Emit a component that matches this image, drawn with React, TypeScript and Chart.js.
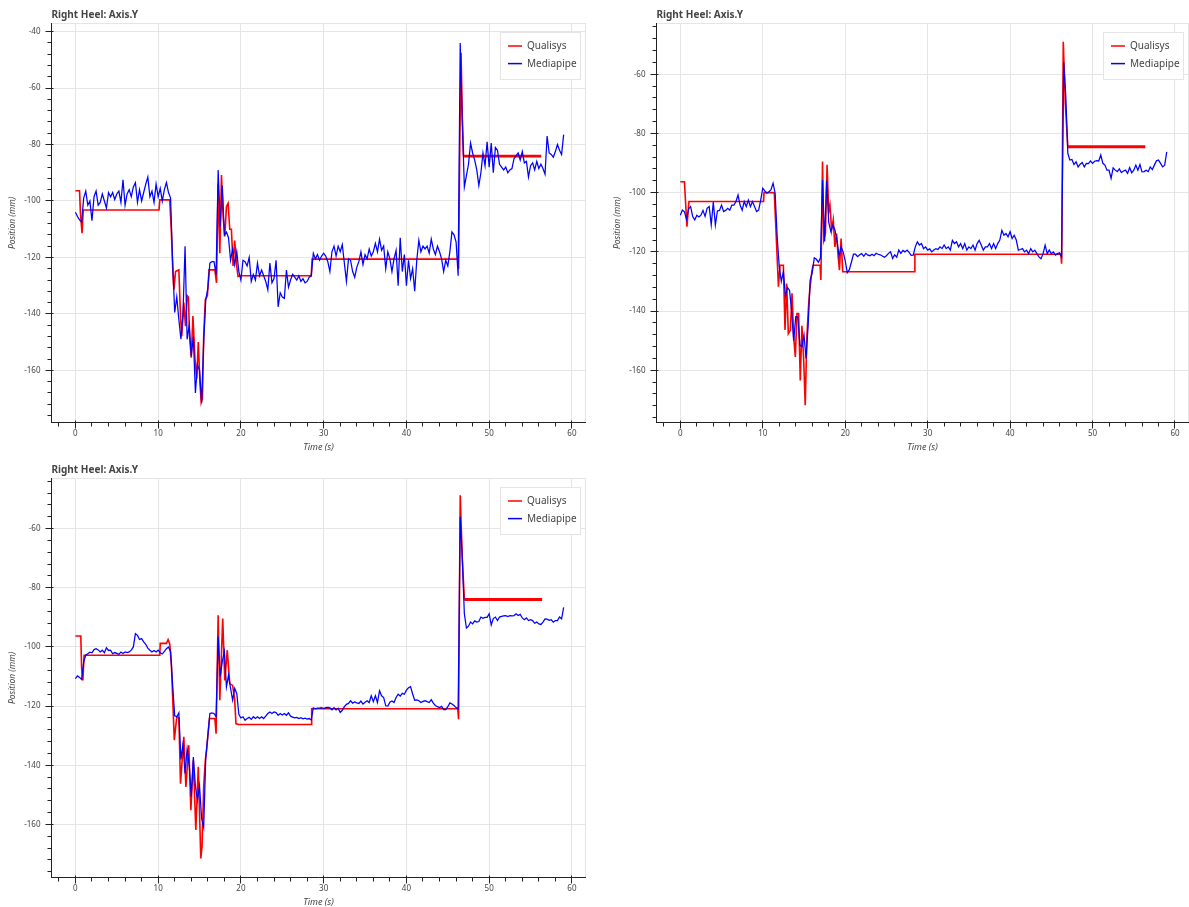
import React, { useEffect, useRef } from "react";
import { Chart, registerables } from "chart.js";

Chart.register(...registerables);
Chart.defaults.font.family = "'Noto Sans', 'DejaVu Sans', sans-serif";

// ---- Labels -------------------------------------------------------------
const TITLE = "Right Heel: Axis.Y";
const X_LABEL = "Time (s)";
const Y_LABEL = "Position (mm)";
const SERIES_NAMES = ["Qualisys", "Mediapipe"];

const TIME_TICKS = [0, 10, 20, 30, 40, 50, 60];
const POS_TICKS_WIDE = [-160, -140, -120, -100, -80, -60, -40];
const POS_TICKS = [-160, -140, -120, -100, -80, -60];

// Mediapipe samples are plotted every 0.25 s starting at t = 0.
const MEDIAPIPE_STEP = 0.25;

// ---- Panel 1 ------------------------------------------------------------
const qualisysTime1 = [
  0, 0.5, 0.6, 0.8, 0.95, 10.1, 10.2, 11.4, 11.6, 11.8,
  11.9, 12.1, 12.5, 12.7, 12.85, 13.1, 13.3, 13.5, 13.65, 13.8,
  14.0, 14.2, 14.45, 14.65, 14.85, 15.05, 15.2, 15.35, 15.5, 15.7,
  15.95, 16.15, 16.85, 17.05, 17.25, 17.45, 17.65, 17.85, 18.05, 18.25,
  18.45, 18.65, 18.85, 19.05, 19.25, 19.45, 19.65, 19.85, 28.5, 28.6,
  46.2, 46.3, 46.45, 46.6, 46.75, 46.9, 56.3,
];
const qualisysPos1 = [
  -96.4, -96.4, -104, -111.4, -103.2, -103.2, -99.6, -99.6, -111.4, -126.7,
  -131.4, -125, -124.4, -140.8, -147.9, -136, -144.4, -133.5, -134, -148,
  -155.5, -140.8, -156, -163, -150, -164.4, -171.4, -170, -148, -135,
  -133.5, -124.4, -124.4, -129, -93.8, -118.5, -90.8, -105.5, -112.6, -102,
  -100.8, -110, -110, -123, -114, -122, -126.7, -126.5, -126.5, -120.6,
  -120.6, -124, -80, -47.5, -70, -84.1, -84.1,
];
const mediapipePos1 = [
  -104, -105.5, -106.7, -107.5, -99, -96.5, -101.5, -100, -107, -98.5,
  -96.5, -101.5, -100.5, -97.5, -100, -102.5, -97, -98.5, -97, -99.5,
  -97.5, -96.5, -100.5, -92.5, -101.5, -97.5, -96, -98.5, -95, -93.5,
  -100.5, -96, -100, -97, -94, -91.5, -98.5, -96.5, -100.5, -94,
  -98.5, -95.5, -100, -96, -93.5, -97, -99, -122, -139.5, -134,
  -142, -149, -140, -116, -149, -144, -155, -148, -168, -158,
  -160, -171.5, -150, -135, -131, -122, -121.5, -121.5, -126, -89,
  -109, -94.5, -112, -111, -113, -121, -117, -122.5, -118, -125,
  -128, -121, -121.5, -123, -120, -128.5, -126, -128, -122, -126.5,
  -124.5, -126.5, -128.5, -131.5, -122, -129, -127.5, -121, -137.5, -132.5,
  -134, -134.5, -124.5, -130.5, -128, -126, -127, -128, -126.5, -128.5,
  -127.5, -129, -128.5, -127, -126.5, -118.5, -120.5, -119, -121, -119.5,
  -118.5, -119.5, -121.5, -125, -118, -116, -119.5, -116, -118, -115.5,
  -122, -128.5, -120.5, -121, -125, -127, -123.5, -121.5, -118, -122.5,
  -119, -120.5, -117, -119.5, -118, -115, -118, -113.5, -117.5, -116,
  -124, -118, -120.5, -125, -120.5, -117.5, -130, -113, -125, -119,
  -130, -121, -127.5, -124, -132, -121, -114, -118, -116, -117,
  -116, -118.5, -113.5, -117, -119, -116, -118, -120.5, -125, -121,
  -123, -118, -111, -112, -114.5, -126.5, -44, -72, -95, -91,
  -87, -79.5, -83, -85.5, -89, -94.5, -90, -83, -87.5, -79,
  -88, -79.5, -90, -81, -82, -87, -88, -89, -88, -90,
  -89, -88.5, -85, -84, -83, -85.5, -82.5, -86.5, -86, -91.5,
  -87.5, -86.5, -89, -86, -88.5, -87, -88.5, -90.5, -77, -83,
  -83.5, -84.5, -82.5, -80, -82, -83.5, -76.5,
];

// ---- Panel 2 ------------------------------------------------------------
const qualisysTime2 = [
  0, 0.5, 0.8, 1.05, 10.1, 10.15, 11.3, 11.4, 11.6, 11.9,
  12.1, 12.5, 12.7, 12.9, 13.1, 13.35, 13.55, 13.75, 13.95, 14.15,
  14.35, 14.55, 14.75, 14.95, 15.15, 15.35, 15.55, 15.7, 15.95, 16.1,
  16.95, 17.05, 17.25, 17.4, 17.6, 17.8, 18.0, 18.15, 18.35, 18.55,
  18.75, 18.95, 19.15, 19.3, 19.5, 19.7, 28.4, 28.45, 46.15, 46.25,
  46.45, 46.7, 47.0, 56.4,
];
const qualisysPos2 = [
  -96.3, -96.3, -111.5, -103, -103, -100, -100, -100.2, -112.6, -131.8,
  -124.5, -124.5, -146.4, -130.7, -147.6, -146.4, -134, -148.7, -155.5, -140.8,
  -140.8, -163.4, -145, -155.5, -171.8, -148.7, -138.5, -132.9, -126.7, -124.5,
  -124.5, -129.5, -89.5, -116, -113.8, -90.6, -106.4, -104.2, -112.6, -109.2,
  -118.3, -113.8, -121.6, -126.2, -115.5, -126.7, -126.7, -120.8, -120.8, -124,
  -49, -70, -84.5, -84.5,
];
const mediapipePos2 = [
  -107.6, -105.9, -106.5, -109, -105.5, -104.7, -108.1, -109.2, -107.6, -108.2,
  -107.6, -106, -108, -105.3, -104.7, -110.9, -103.2, -110.9, -106.2, -106,
  -104.2, -106.4, -106, -105.3, -105.9, -104.2, -104.2, -103, -100.8, -104.2,
  -105.9, -103, -104.7, -102.5, -104.7, -103, -104.7, -106.4, -105.9, -102.5,
  -98.5, -99.4, -100.2, -99.7, -99, -96.8, -100.2, -115, -125, -130,
  -126.7, -135, -132, -133, -140, -150, -141.9, -142, -151.5, -152,
  -148, -156, -145, -129.5, -127, -122, -122.5, -123.5, -122, -95.7,
  -116.5, -96, -110, -113, -111, -112.6, -116, -121.5, -118.3, -120,
  -123, -127, -126, -123.5, -120.8, -120.8, -121.6, -121, -120.6, -121.5,
  -120.5, -121.1, -121.3, -120.8, -121.3, -120.5, -120.8, -121, -121.4, -121.8,
  -121.3, -120.5, -120, -122.2, -121, -121.8, -119.4, -120.5, -119.5, -120,
  -119.4, -120.2, -121.2, -121.1, -118.3, -116.6, -117.7, -117.2, -118.9, -118.3,
  -119.4, -119, -120, -119.4, -118.9, -119.2, -118.3, -118.9, -117.7, -118.9,
  -118.3, -119.4, -116.1, -117.2, -116.6, -118.3, -117.2, -118.9, -117.2, -119.4,
  -118.3, -118.9, -117.7, -119.4, -117.2, -116.1, -117.7, -119.4, -118.3, -118.3,
  -117.2, -118.9, -117.2, -118.9, -117.2, -116, -112.7, -114.4, -113.8, -114.9,
  -113.2, -115.5, -114.4, -116, -119.4, -119.2, -118.9, -120, -119.4, -120.6,
  -118.9, -120, -119.4, -120.6, -121.7, -122.3, -120.6, -117.7, -120.6, -119.4,
  -120.6, -120, -121.1, -120.6, -120.3, -121.7, -56, -67, -86.7, -89,
  -88.8, -90.5, -89.6, -91.3, -90.4, -89.8, -91.3, -90.1, -90.2, -89.3,
  -90.1, -89.4, -89.2, -89.3, -87.3, -90.1, -90.7, -92.4, -92.4, -95.2,
  -91.6, -92.4, -92.9, -92, -93.2, -92.7, -92.4, -93.5, -91.5, -93.3,
  -92.4, -90.7, -92.4, -90.5, -93, -92.9, -92.4, -92.9, -91.3, -92.2,
  -90.7, -89.2, -89, -90.1, -91.3, -90.7, -86.2,
];

// ---- Panel 3 ------------------------------------------------------------
const qualisysTime3 = [
  0, 0.65, 0.75, 0.9, 1.05, 10.2, 10.25, 11.0, 11.2, 11.4,
  11.6, 11.95, 12.25, 12.5, 12.7, 13.1, 13.35, 13.7, 13.95, 14.25,
  14.55, 14.85, 15.15, 15.3, 15.5, 15.7, 15.85, 16.2, 16.85, 17.0,
  17.25, 17.45, 17.8, 18.05, 18.35, 18.65, 19.0, 19.25, 19.4, 19.7,
  28.5, 28.55, 46.2, 46.3, 46.5, 46.75, 47.0, 56.4,
];
const qualisysPos3 = [
  -96.3, -96.3, -107.3, -111.3, -102.8, -102.8, -98.8, -98.8, -97.5, -99,
  -106, -131.5, -123.6, -124, -146.2, -130.4, -147.3, -133.2, -155.2, -138.3,
  -161.9, -140.5, -171.5, -167.5, -147.3, -138.3, -134.9, -124.2, -124.2, -129.3,
  -89.3, -118, -90.4, -111.3, -101.1, -112.4, -113, -118, -125.9, -126.2,
  -126.2, -120.9, -120.9, -124.4, -48.7, -70, -84, -84,
];
const mediapipePos3 = [
  -110.7, -109.8, -110.3, -111, -105, -102.8, -102.3, -101.8, -102, -100.9,
  -100.6, -101, -101.7, -101.1, -102, -100.3, -101.2, -101.1, -102.3, -101.9,
  -102.2, -102.5, -101.7, -102.2, -101.7, -101.9, -101.7, -101.1, -100, -95.5,
  -96.1, -97.5, -97.2, -98.3, -99.1, -100.4, -101.1, -101.7, -101.2, -101.7,
  -101.1, -102, -102.4, -101.5, -100.6, -100, -101.5, -113, -123.3, -123.6,
  -122.3, -138, -133, -142.8, -134.5, -140, -150.5, -137.2, -147, -151.8,
  -147, -158, -161, -137.5, -130, -122.5, -122.3, -122.5, -123.6, -96.5,
  -110, -105, -101.5, -113.5, -109.5, -114, -118, -114, -115.8, -122.8,
  -124, -123.6, -124.8, -124.2, -123.8, -124.5, -123.6, -124.2, -123.6, -124.2,
  -123.6, -124.2, -123.4, -122.5, -122, -122.5, -122, -122.2, -123.1, -122.5,
  -123, -122.5, -123.1, -122.3, -123.4, -123.7, -124, -123.8, -124.2, -123.9,
  -124.3, -124.1, -124.4, -124.2, -124.7, -120.6, -120.9, -120.7, -120.7, -120.5,
  -120.8, -120.5, -120.4, -120.6, -121.3, -120.5, -121.3, -120.7, -122.1, -121.4,
  -120.2, -119.4, -119.1, -118.2, -119, -118.6, -118.9, -119.1, -118.3, -119.3,
  -118.7, -118.2, -118.8, -116.5, -118.5, -116.5, -118.8, -114.8, -116.5, -117.1,
  -119.9, -120, -118.7, -118.3, -118.8, -117.1, -116, -116.6, -115.7, -116,
  -114.6, -113.8, -113.4, -115.9, -118, -117.9, -118.2, -118.8, -118.4, -118.2,
  -118.5, -118.8, -117.8, -119, -119.8, -120.2, -120.5, -120.1, -121.2, -121.2,
  -120.2, -118.9, -119.3, -119.8, -120.5, -121, -56, -70, -88.8, -93.6,
  -93, -91.6, -92.2, -91.2, -91.6, -91.4, -89.9, -90.3, -90, -90,
  -88.8, -92.6, -90.4, -89.9, -91.1, -89.9, -89.7, -89.5, -89.4, -89.7,
  -89.4, -89.5, -89.4, -88.8, -89.4, -89, -90.2, -90.8, -90.2, -91.1,
  -90.8, -91.1, -92, -91.6, -92.2, -92.4, -91.6, -90.5, -90.6, -91,
  -90.8, -91.6, -91.1, -91.1, -89.9, -90.5, -86.6,
];

// ---- Styling ------------------------------------------------------------
const TEXT_COLOR = "#444444";
const GRID_COLOR = "#e5e5e5";
const AXIS_COLOR = "#222222";
const QUALISYS_COLOR = "#ff0000";
const MEDIAPIPE_COLOR = "#0000ff";

type PanelSpec = {
  left: number;
  top: number;
  width: number;
  height: number;
  padRight: number;
  yMin: number;
  yMax: number;
  yTicks: number[];
  qTime: number[];
  qPos: number[];
  mPos: number[];
  plateauWidth: number;
};

const PANELS: PanelSpec[] = [
  {
    left: 0, top: 0, width: 596, height: 455, padRight: 10,
    yMin: -178.65, yMax: -36.95, yTicks: POS_TICKS_WIDE,
    qTime: qualisysTime1, qPos: qualisysPos1, mPos: mediapipePos1, plateauWidth: 2.6,
  },
  {
    left: 605, top: 0, width: 584, height: 455, padRight: 0,
    yMin: -177.8, yMax: -42.7, yTicks: POS_TICKS,
    qTime: qualisysTime2, qPos: qualisysPos2, mPos: mediapipePos2, plateauWidth: 3,
  },
  {
    left: 0, top: 455, width: 596, height: 455, padRight: 10,
    yMin: -178.1, yMax: -42.9, yTicks: POS_TICKS,
    qTime: qualisysTime3, qPos: qualisysPos3, mPos: mediapipePos3, plateauWidth: 3,
  },
];

const X_MIN = -2.95;
const X_MAX = 61.7;

const align = (p: number) => Math.round(p - 0.5) + 0.5;

// Plot outline, Bokeh-style axes with minor ticks, panel title and legend box.
const panelDecor = {
  id: "panelDecor",
  beforeDatasetsDraw(chart: any) {
    const { ctx, chartArea: a } = chart;
    ctx.save();
    ctx.strokeStyle = GRID_COLOR;
    ctx.lineWidth = 1;
    ctx.strokeRect(a.left + 0.5, a.top + 0.5, a.right - a.left - 1, a.bottom - a.top - 1);
    ctx.restore();
  },
  afterDraw(chart: any) {
    const { ctx, chartArea: a } = chart;
    const xs = chart.scales.x;
    const ys = chart.scales.y;
    ctx.save();

    // axis lines and ticks
    const ax = a.left + 0.5;
    const by = a.bottom - 0.5;
    ctx.strokeStyle = AXIS_COLOR;
    ctx.lineWidth = 1;
    ctx.beginPath();
    ctx.moveTo(ax, a.top);
    ctx.lineTo(ax, a.bottom);
    ctx.moveTo(a.left, by);
    ctx.lineTo(a.right, by);
    for (let v = Math.ceil(ys.min / 4) * 4; v <= ys.max; v += 4) {
      const p = align(ys.getPixelForValue(v));
      const major = v % 20 === 0;
      ctx.moveTo(ax - (major ? 6 : 4), p);
      ctx.lineTo(ax + (major ? 2 : 0), p);
    }
    for (let v = Math.ceil(xs.min / 2) * 2; v <= xs.max; v += 2) {
      const p = align(xs.getPixelForValue(v));
      const major = v % 10 === 0;
      ctx.moveTo(p, by - (major ? 2 : 0));
      ctx.lineTo(p, by + (major ? 6 : 4));
    }
    ctx.stroke();

    // title
    ctx.fillStyle = TEXT_COLOR;
    ctx.font = "bold 10px 'Noto Sans'";
    ctx.textAlign = "left";
    ctx.textBaseline = "alphabetic";
    ctx.fillText(TITLE, a.left + 0.5, a.top - 5.5);

    // legend
    const w = 80;
    const h = 47;
    const lx = Math.round(a.right - 6 - w);
    const ly = Math.round(a.top + 8.5);
    ctx.fillStyle = "rgba(255,255,255,0.95)";
    ctx.fillRect(lx, ly, w, h);
    ctx.strokeStyle = GRID_COLOR;
    ctx.strokeRect(lx + 0.5, ly + 0.5, w, h);
    chart.data.datasets.forEach((ds: any, i: number) => {
      const cy = ly + 14 + i * 17.6;
      ctx.strokeStyle = ds.borderColor;
      ctx.lineWidth = 1.5;
      ctx.beginPath();
      ctx.moveTo(lx + 8, cy);
      ctx.lineTo(lx + 22, cy);
      ctx.stroke();
      ctx.fillStyle = TEXT_COLOR;
      ctx.font = "10px 'Noto Sans'";
      ctx.textBaseline = "middle";
      ctx.fillText(ds.label, lx + 27, cy + 0.5);
    });
    ctx.restore();
  },
};

function buildConfig(spec: PanelSpec): any {
  const qualisys = spec.qTime.map((t, i) => ({ x: t, y: spec.qPos[i] }));
  const mediapipe = spec.mPos.map((y, i) => ({ x: i * MEDIAPIPE_STEP, y }));
  return {
    type: "line",
    data: {
      datasets: [
        {
          label: SERIES_NAMES[0],
          data: qualisys,
          borderColor: QUALISYS_COLOR,
          borderWidth: 1.6,
          pointRadius: 0,
          tension: 0,
          order: 1,
          segment: {
            borderWidth: (c: any) => (c.p0.parsed.x >= 46.85 ? spec.plateauWidth : 1.6),
          },
        },
        {
          label: SERIES_NAMES[1],
          data: mediapipe,
          borderColor: MEDIAPIPE_COLOR,
          borderWidth: 1.25,
          pointRadius: 0,
          tension: 0,
          order: 0,
        },
      ],
    },
    options: {
      responsive: false,
      animation: false,
      devicePixelRatio: 1,
      events: [],
      layout: { padding: { left: 0, right: spec.padRight, top: 23, bottom: 0 } },
      plugins: {
        legend: { display: false },
        tooltip: { enabled: false },
        title: { display: false },
      },
      scales: {
        x: {
          type: "linear",
          min: X_MIN,
          max: X_MAX,
          afterFit: (s: any) => { s.height = 32; },
          afterBuildTicks: (s: any) => { s.ticks = TIME_TICKS.map((v) => ({ value: v })); },
          grid: { color: GRID_COLOR, drawTicks: false, lineWidth: 1 },
          border: { display: false },
          ticks: {
            padding: 6.2,
            color: TEXT_COLOR,
            font: { size: 8 },
            maxRotation: 0,
            autoSkip: false,
            callback: (v: any) => String(v),
          },
          title: {
            display: true,
            text: X_LABEL,
            color: TEXT_COLOR,
            font: { size: 9, style: "italic" },
            padding: { top: 0, bottom: 1.8 },
          },
        },
        y: {
          type: "linear",
          min: spec.yMin,
          max: spec.yMax,
          afterFit: (s: any) => { s.width = 51; },
          afterBuildTicks: (s: any) => { s.ticks = spec.yTicks.map((v) => ({ value: v })); },
          grid: { color: GRID_COLOR, drawTicks: false, lineWidth: 1 },
          border: { display: false },
          ticks: {
            padding: 10.5,
            color: TEXT_COLOR,
            font: { size: 8 },
            autoSkip: false,
            callback: (v: any) => String(v),
          },
          title: {
            display: true,
            text: Y_LABEL,
            color: TEXT_COLOR,
            font: { size: 8.5, style: "italic" },
            padding: { top: 7.5, bottom: 0 },
          },
        },
      },
    },
    plugins: [panelDecor],
  };
}

function Panel({ spec }: { spec: PanelSpec }) {
  const ref = useRef<HTMLCanvasElement | null>(null);
  useEffect(() => {
    const canvas = ref.current;
    if (!canvas) return;
    const chart = new Chart(canvas, buildConfig(spec));
    return () => chart.destroy();
  }, [spec]);
  return (
    <canvas
      ref={ref}
      width={spec.width}
      height={spec.height}
      style={{
        position: "absolute",
        left: spec.left,
        top: spec.top,
        width: spec.width,
        height: spec.height,
      }}
    />
  );
}

export default function App() {
  return (
    <div
      style={{
        position: "fixed",
        left: 0,
        top: 0,
        width: 1189,
        height: 907,
        overflow: "hidden",
        background: "#ffffff",
      }}
    >
      {PANELS.map((p, i) => (
        <Panel key={i} spec={p} />
      ))}
    </div>
  );
}
